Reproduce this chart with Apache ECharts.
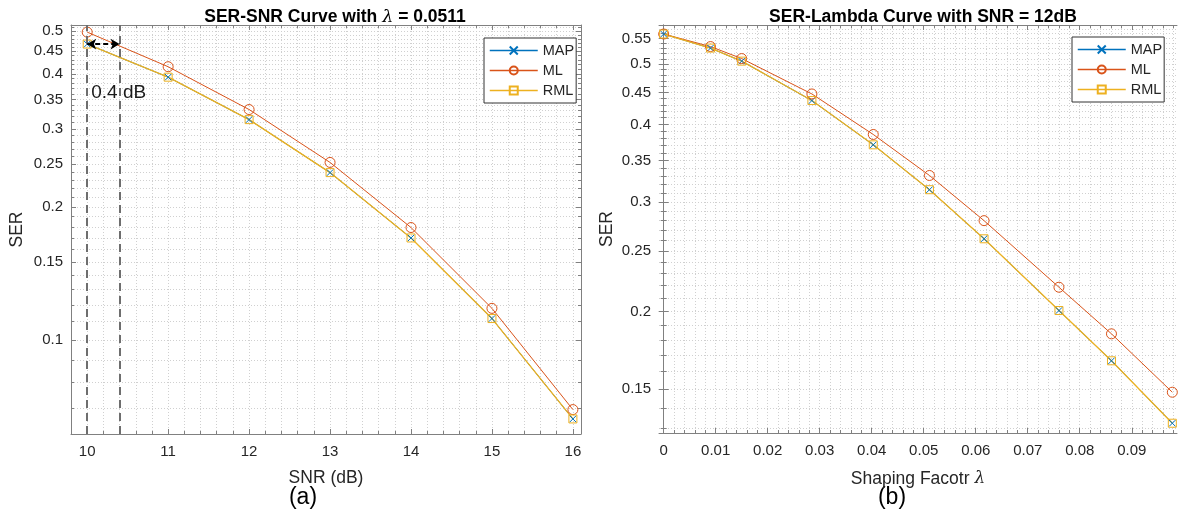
<!DOCTYPE html>
<html><head><meta charset="utf-8">
<script src="https://cdn.jsdelivr.net/npm/echarts@6/dist/echarts.min.js"></script>
<style>html,body{margin:0;padding:0;background:#fff}#c{width:1182px;height:519px}</style>
</head><body><div id="c"></div>
<script>
// ---- data ----
const snr = [10, 11, 12, 13, 14, 15, 16];
const snrMAP = [0.467, 0.393, 0.315, 0.239, 0.170, 0.1117, 0.0662];
const snrML  = [0.497, 0.415, 0.332, 0.252, 0.1795, 0.1178, 0.0695];
const snrRML = [0.467, 0.393, 0.315, 0.239, 0.170, 0.1117, 0.0662];

const lambda = [0, 0.009, 0.015, 0.0285, 0.0403, 0.0511, 0.0616, 0.076, 0.0861, 0.0978];
const lamMAP = [0.559, 0.5306, 0.5056, 0.4369, 0.3708, 0.314, 0.2618, 0.2007, 0.1666, 0.1322];
const lamML  = [0.559, 0.5336, 0.5104, 0.4477, 0.3853, 0.331, 0.280, 0.2188, 0.1841, 0.1483];
const lamRML = [0.559, 0.5306, 0.5056, 0.4369, 0.3708, 0.314, 0.2618, 0.2007, 0.1666, 0.1322];

const snrTicks = [10, 11, 12, 13, 14, 15, 16];
const lamTicks = [0, 0.01, 0.02, 0.03, 0.04, 0.05, 0.06, 0.07, 0.08, 0.09];
const serTicksA = [0.1, 0.15, 0.2, 0.25, 0.3, 0.35, 0.4, 0.45, 0.5];
const serTicksB = [0.15, 0.2, 0.25, 0.3, 0.35, 0.4, 0.45, 0.5, 0.55];

const gapLinesX = [10, 10.4];
const gapArrowY = 0.467;
const gapLabel = '0.4 dB';
const gapLabelPos = [10.05, 0.363];

const titleA = 'SER-SNR Curve with {l|λ} = 0.0511';
const titleB = 'SER-Lambda Curve with SNR = 12dB';

// ---- helpers ----
function steps(a, b, s) { const r = []; const n = Math.round((b - a) / s); for (let i = 0; i <= n; i++) r.push(+(a + i * s).toFixed(6)); return r; }
const snrMinor = steps(9.8, 16.1, 0.2);
const lamMinor = steps(0, 0.098, 0.002);
const serMinorA = steps(0.07, 0.51, 0.01);
const serMinorB = steps(0.13, 0.57, 0.01);

const FONT = 'Liberation Sans, Arial, Helvetica, sans-serif';
const TXT = '#262626';
const AX = '#808080';
const C_MAP = '#0072BD', C_ML = '#D95319', C_RML = '#EDB120';

function fmt(v) { return String(+(+v).toFixed(4)); }

function axes(dim, grid, type, min, max, major, minor, name, nameGap) {
  const isX = dim === 'x';
  const pos0 = isX ? 'bottom' : 'left', pos1 = isX ? 'top' : 'right';
  const base = { gridIndex: grid, type: type, min: min, max: max, scale: true };
  const main = Object.assign({}, base, {
    position: pos0,
    name: name, nameLocation: 'middle', nameGap: nameGap,
    nameTextStyle: { fontSize: 17.5, color: TXT, fontFamily: FONT },
    axisLine: { show: true, lineStyle: { color: AX, width: 1 } },
    axisTick: { show: true, inside: true, length: 5, customValues: major, lineStyle: { color: AX } },
    axisLabel: { show: true, customValues: major, formatter: fmt, color: TXT, fontSize: 15, fontFamily: FONT, margin: isX ? 10 : 8, hideOverlap: false, showMinLabel: true, showMaxLabel: true },
    splitLine: { show: true, lineStyle: { color: '#b9b9b9', type: [1, 2], width: 1 } },
    minorTick: { show: false }, minorSplitLine: { show: false }
  });
  const mnr = Object.assign({}, base, {
    position: pos0,
    axisLine: { show: false },
    axisTick: { show: true, inside: true, length: 3, customValues: minor, lineStyle: { color: AX } },
    axisLabel: { show: false, customValues: minor },
    splitLine: { show: true, lineStyle: { color: '#d0d0d0', type: [1, 2], width: 1 } }
  });
  const opp = Object.assign({}, base, {
    position: pos1,
    axisLine: { show: true, lineStyle: { color: AX, width: 1 } },
    axisTick: { show: true, inside: true, length: 5, customValues: major, lineStyle: { color: AX } },
    axisLabel: { show: false, customValues: major },
    splitLine: { show: false }
  });
  const oppm = Object.assign({}, base, {
    position: pos1,
    axisLine: { show: false },
    axisTick: { show: true, inside: true, length: 3, customValues: minor, lineStyle: { color: AX } },
    axisLabel: { show: false, customValues: minor },
    splitLine: { show: false }
  });
  return [main, mnr, opp, oppm];
}

const xAxes = [].concat(
  axes('x', 0, 'value', 9.8, 16.1, snrTicks, snrMinor, 'SNR (dB)', 35),
  axes('x', 1, 'value', -0.0009, 0.0987, lamTicks, lamMinor, 'Shaping Facotr {l|λ}', 37)
);
xAxes[4].nameTextStyle.rich = { l: { fontStyle: 'italic', fontFamily: 'DejaVu Serif, serif', fontSize: 17, color: TXT } };
const yAxes = [].concat(
  axes('y', 0, 'log', 0.0612, 0.5158, serTicksA, serMinorA, 'SER', 45),
  axes('y', 1, 'log', 0.1275, 0.578, serTicksB, serMinorB, 'SER', 43)
);

const X_PATH = 'path://M0,0L10,10M10,0L0,10';
function mk(name, xs, ys, g, color, symbol, size, lw, extra) {
  return Object.assign({
    name: name, type: 'line', xAxisIndex: g * 4, yAxisIndex: g * 4,
    data: xs.map((x, i) => [x, ys[i]]),
    symbol: symbol, symbolSize: size, showSymbol: true, showAllSymbol: true,
    lineStyle: { color: color, width: lw },
    itemStyle: { color: 'rgba(0,0,0,0)', borderColor: color, borderWidth: 1 },
    emphasis: { disabled: true }, animation: false
  }, extra || {});
}

const dashGray = { color: '#6e6e6e', type: [8, 5], width: 2 };
const gapMarks = {
  markLine: {
    silent: true, animation: false,
    symbol: ['none', 'none'],
    data: [
      { xAxis: gapLinesX[0], lineStyle: dashGray },
      { xAxis: gapLinesX[1], lineStyle: dashGray },
      [
        { coord: [gapLinesX[0], gapArrowY], symbol: 'arrow', symbolSize: [8, 9] },
        { coord: [gapLinesX[1], gapArrowY], symbol: 'arrow', symbolSize: [8, 9], lineStyle: { color: '#000', type: [5, 3], width: 2 } }
      ]
    ],
    lineStyle: { color: '#000' }, label: { show: false }
  },
  markPoint: {
    silent: true, animation: false,
    data: [{ coord: gapLabelPos, symbol: 'circle', symbolSize: 0,
      label: { show: true, position: 'right', distance: 0, formatter: gapLabel, color: '#1a1a1a', fontSize: 19, fontFamily: FONT } }]
  }
};

const series = [
  mk('MAP', snr, snrMAP, 0, C_MAP, X_PATH, 6.5, 1),
  mk('ML', snr, snrML, 0, C_ML, 'circle', 10, 1),
  mk('RML', snr, snrRML, 0, C_RML, 'rect', 8, 1.3, gapMarks),
  mk('MAP', lambda, lamMAP, 1, C_MAP, X_PATH, 6.5, 1),
  mk('ML', lambda, lamML, 1, C_ML, 'circle', 10, 1),
  mk('RML', lambda, lamRML, 1, C_RML, 'rect', 8, 1.3)
];

function legend(left, top) {
  return {
    data: ['MAP', 'ML', 'RML'], orient: 'vertical', left: left, top: top,
    itemWidth: 48, itemHeight: 10, itemGap: 5, padding: [5, 2, 5, 5],
    backgroundColor: '#fff', borderColor: '#333', borderWidth: 1, borderRadius: 0,
    lineStyle: { width: 1.5 },
    textStyle: { fontSize: 14.5, color: TXT, fontFamily: FONT }, selectedMode: false
  };
}

const option = {
  animation: false,
  backgroundColor: '#fff',
  textStyle: { fontFamily: FONT },
  title: [
    { text: titleA, left: 330, top: 3, textAlign: 'center',
      textStyle: { fontSize: 17.5, fontWeight: 'bold', color: '#000', fontFamily: FONT,
        rich: { l: { fontStyle: 'italic', fontWeight: 'normal', fontFamily: 'DejaVu Serif, serif', fontSize: 17.5, color: '#000' } } } },
    { text: titleB, left: 918, top: 3, textAlign: 'center',
      textStyle: { fontSize: 17.5, fontWeight: 'bold', color: '#000', fontFamily: FONT } }
  ],
  legend: [legend(484, 38), legend(1072, 37)],
  grid: [
    { left: 71, top: 25, width: 510, height: 409, containLabel: false },
    { left: 659, top: 25, width: 518, height: 408, containLabel: false }
  ],
  xAxis: xAxes,
  yAxis: yAxes,
  series: series,
  graphic: [
    { type: 'text', x: 303, y: 498, style: { text: '(a)', fill: '#000', font: '23px ' + FONT, textAlign: 'center', textVerticalAlign: 'middle' } },
    { type: 'text', x: 892, y: 498, style: { text: '(b)', fill: '#000', font: '23px ' + FONT, textAlign: 'center', textVerticalAlign: 'middle' } }
  ]
};

const chart = echarts.init(document.getElementById('c'), null, { renderer: 'canvas' });
chart.setOption(option);
</script>
</body></html>
